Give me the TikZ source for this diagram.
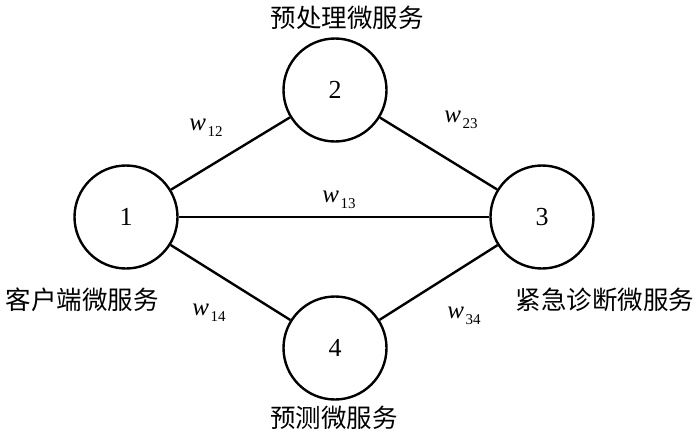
\documentclass[tikz,border=0pt]{standalone}
\usepackage{fontspec}
\setmainfont{Liberation Serif}
\newfontfamily\cjk{Noto Sans CJK SC}
\newcommand{\wsub}[1]{\textit{w}\kern1.5pt\raisebox{-6pt}{\fontsize{15}{15}\selectfont #1}}
\begin{document}
\begin{tikzpicture}[x=1pt,y=-1pt,
  vert/.style={circle,draw,line width=2.4pt,minimum size=103pt,inner sep=0pt,font=\fontsize{26}{26}\selectfont},
  edge/.style={line width=2.4pt},
  cn/.style={font=\cjk\fontsize{25.5}{25.5}\selectfont,inner sep=0pt},
  wl/.style={font=\fontsize{25}{25}\selectfont,inner sep=0pt}]
\useasboundingbox (0,0) rectangle (700,440);
\node[vert] (n1) at (126,217) {1};
\node[vert] (n2) at (335,90) {2};
\node[vert] (n3) at (542,217) {3};
\node[vert] (n4) at (335,348) {4};
\draw[edge] (n1) -- (n2);
\draw[edge] (n2) -- (n3);
\draw[edge] (n1) -- (n3);
\draw[edge] (n1) -- (n4);
\draw[edge] (n4) -- (n3);
\node[cn] (t2) at (347,18) {预处理微服务};
\node[cn] (t1) at (82,300) {客户端微服务};
\node[cn] (t3) at (605,300) {紧急诊断微服务};
\node[cn] (t4) at (334,418) {预测微服务};
\node[wl] (w12) at (206,128) {\wsub{12}};
\node[wl] (w23) at (461,120) {\wsub{23}};
\node[wl] (w13) at (339,200) {\wsub{13}};
\node[wl] (w14) at (209,313) {\wsub{14}};
\node[wl] (w34) at (464,316) {\wsub{34}};
\end{tikzpicture}
\end{document}
